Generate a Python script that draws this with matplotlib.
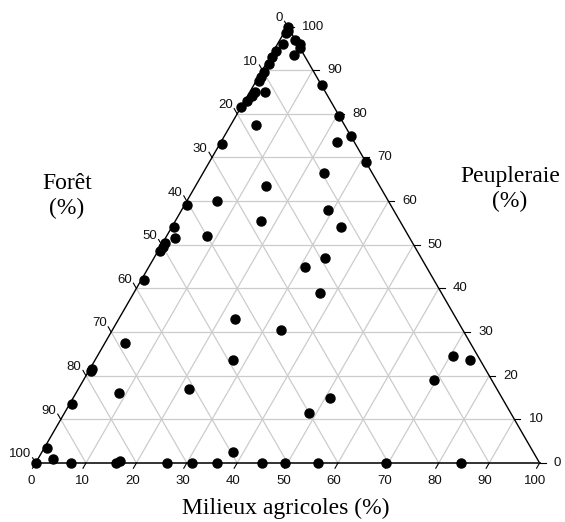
import matplotlib
matplotlib.use("Agg")
import matplotlib.pyplot as plt
import numpy as np

# composition of each site (%), foret = 100 - agricoles - peupleraie
agricoles = [0, 0.5, 0.5, 3, 4.5, 5, 4.5, 1, 0.5, 0.5, 0.5, 0.5, 0.5, 0.5,
             1, 1, 0.5, 0, 3, 5, 13.5, 20.5, 25, 23, 31, 0.5, 14, 6, 0.5,
             17, 0.5, 2, 8, 0.5, 0.5, 0.5, 0.5, 24, 29, 33.5, 34, 31, 37,
             23, 33.5, 4, 27.5, 0.5, 0.5, 22, 70.5, 74.5, 69.5, 0.5, 8.5,
             0.5, 0, 3, 7, 16, 16.5, 26, 31, 36, 45, 49.5, 56, 69.5, 84.5,
             48.5, 51, 38]
peupleraie = [100, 99, 98.5, 97, 96, 95, 93.5, 96, 94.5, 93, 91.5, 89.5, 88.5,
              87.5, 85, 84, 83, 81.5, 85, 77.5, 86.5, 79.5, 75, 73.5, 69, 73,
              63.5, 60, 59, 55.5, 54, 51.5, 52, 50.5, 49.5, 48.5, 42, 66.5,
              58, 54, 47, 45, 39, 33, 30.5, 27.5, 23.5, 21, 21.5, 17, 24.5,
              23.5, 19, 13.5, 16, 3.5, 0, 1, 0, 0, 0.5, 0, 0, 0, 0, 0, 0, 0,
              0, 11.5, 15, 2.5]
foret = 100 - np.array(agricoles) - np.array(peupleraie)

tick_values = [0, 10, 20, 30, 40, 50, 60, 70, 80, 90, 100]

H = np.sqrt(3) / 2


def proj(a, p):
    """agricoles / peupleraie -> x, y dans le triangle (cote = 100)"""
    a = np.asarray(a, dtype=float)
    p = np.asarray(p, dtype=float)
    return a + p / 2, p * H


fig = plt.figure(figsize=(5.65, 5.22), dpi=100)
ax = fig.add_axes([0, 0, 1, 1])
scale = 5.04
ax.set_xlim(-35.6 / scale, (565 - 35.6) / scale)
ax.set_ylim(-59 / scale, (522 - 59) / scale)
ax.axis("off")

# grille
grid_kw = dict(color="#cccccc", lw=0.9, zorder=1)
for v in tick_values[1:-1]:
    x, y = proj([0, 100 - v], [v, v])
    ax.plot(x, y, **grid_kw)
    x, y = proj([v, v], [0, 100 - v])
    ax.plot(x, y, **grid_kw)
    x, y = proj([100 - v, 0], [0, 100 - v])
    ax.plot(x, y, **grid_kw)

# bords du triangle
x, y = proj([0, 0], [0, 100])
ax.plot(x, y, color="black", lw=1.0, zorder=2)
x, y = proj([0, 100], [100, 0])
ax.plot(x, y, color="black", lw=1.0, zorder=2)
x, y = proj([0, 100], [0, 0])
ax.plot(x, y, color="#333333", lw=1.4, zorder=2)

tl = 1.2
lab_kw = dict(fontsize=9.5, family="Liberation Sans", color="#111111")
for v in tick_values:
    # axe du bas : milieux agricoles
    x, y = proj(v, 0)
    ax.plot([x, x - 0.5 * tl], [y, y - H * tl], color="black", lw=0.8)
    ax.text(x - 0.8, y - 3.6, str(v), ha="center", va="center", **lab_kw)
    # axe de droite : peupleraie
    x, y = proj(100 - v, v)
    ax.plot([x, x + tl], [y, y], color="black", lw=0.8)
    ax.text(x + 2.8, y, str(v), ha="left", va="center", **lab_kw)
    # axe de gauche : foret
    x, y = proj(0, 100 - v)
    ax.plot([x, x - 0.5 * tl], [y, y + H * tl], color="black", lw=0.8)
    ax.text(x - 0.9, y + 1.7, str(v), ha="right", va="center", **lab_kw)

# points
px, py = proj(agricoles, peupleraie)
ax.plot(px, py, "o", color="black", markersize=6.5, zorder=3, clip_on=False)

title_kw = dict(fontsize=17, family="Liberation Serif", color="black",
                ha="center", va="center", linespacing=1.25)
fig.text(67 / 565, 1 - 196 / 522, "Forêt\n(%)", **title_kw)
fig.text(510 / 565, 1 - 189 / 522, "Peupleraie\n(%)", **title_kw)
fig.text(286 / 565, 1 - 508 / 522, "Milieux agricoles (%)", **title_kw)

fig.savefig("out.png", dpi=100)
